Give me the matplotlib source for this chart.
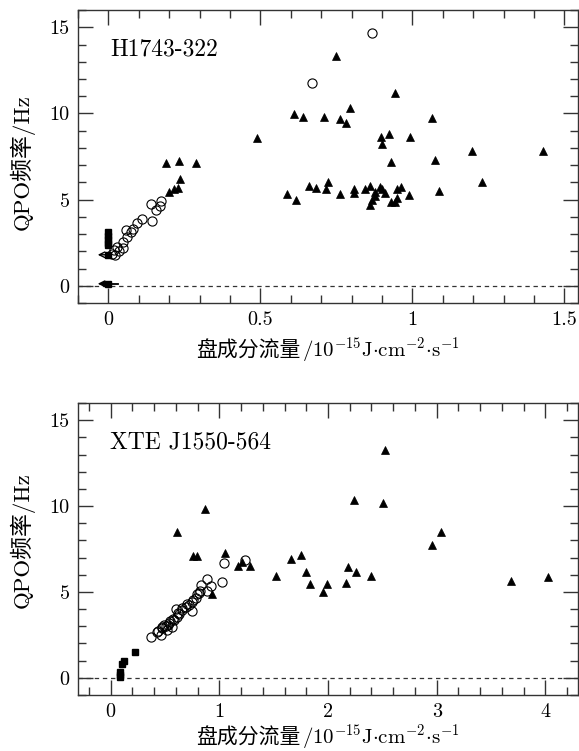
import matplotlib
matplotlib.use("Agg")
import matplotlib.pyplot as plt
from matplotlib.ticker import MultipleLocator
from matplotlib.offsetbox import TextArea, HPacker, AnchoredOffsetbox

plt.rcParams['font.family'] = ['cmr10', 'Noto Sans CJK SC', 'DejaVu Serif']
plt.rcParams['axes.unicode_minus'] = False
plt.rcParams['mathtext.fontset'] = 'cm'

# ---------------- H1743-322 (top) ----------------
h_tri_x = [0.191, 0.232, 0.288, 0.234, 0.200, 0.215, 0.228,
           0.489, 0.612, 0.639, 0.708, 0.749, 0.763, 0.783, 0.796, 0.944, 1.065,
           0.897, 0.922, 0.991, 0.900, 1.196, 1.430, 0.931, 1.076, 1.229,
           0.588, 0.618, 0.659, 0.683, 0.723, 0.716, 0.761, 0.807, 0.809, 0.845,
           0.862, 0.876, 0.878, 0.867, 0.862, 0.895, 0.900, 0.909, 0.931, 0.942,
           0.950, 0.950, 0.964, 0.988, 1.087]
h_tri_y = [7.10, 7.26, 7.14, 6.18, 5.42, 5.60, 5.66,
           8.55, 9.96, 9.80, 9.80, 13.32, 9.65, 9.46, 10.32, 11.19, 9.75,
           8.65, 8.78, 8.65, 8.20, 7.83, 7.82, 7.18, 7.28, 6.00,
           5.31, 4.98, 5.79, 5.66, 6.04, 5.60, 5.33, 5.60, 5.37, 5.60,
           5.79, 5.46, 5.21, 4.98, 4.69, 5.75, 5.60, 5.40, 4.88, 4.88,
           5.08, 5.60, 5.72, 5.27, 5.50]
h_circ_x = [0.012, 0.023, 0.017, 0.029, 0.047, 0.048, 0.061, 0.059, 0.081, 0.094,
            0.109, 0.142, 0.141, 0.155, 0.169, 0.173, 0.035, 0.075, 0.670, 0.867]
h_circ_y = [1.83, 1.80, 2.08, 2.28, 2.18, 2.57, 2.82, 3.24, 3.28, 3.63,
            3.86, 3.76, 4.75, 4.40, 4.63, 4.94, 2.00, 3.15, 11.74, 14.69]
h_sq_x = [0.0, 0.0, 0.0, 0.0, 0.0, 0.0, 0.0]
h_sq_y = [3.10, 2.90, 2.70, 2.50, 2.35, 1.80, 0.12]
# upper limits (arrows pointing to lower flux)
h_lim_x = [0.0, 0.0]
h_lim_y = [1.80, 0.12]
h_lim_style = ['->', '-|>']
h_lim_len = 0.035
h_xerr_hi = 0.03   # horizontal error on the y~0 point

# ---------------- XTE J1550-564 (bottom) ----------------
x_tri_x = [0.607, 0.864, 0.760, 0.797, 1.048, 1.174, 1.211, 1.281, 0.930, 1.517,
           1.664, 1.756, 1.796, 1.830, 1.956, 1.992, 2.170, 2.188, 2.253, 2.391,
           2.237, 2.504, 2.523, 2.961, 3.044, 3.685, 4.025]
x_tri_y = [8.51, 9.83, 7.11, 7.11, 7.25, 6.53, 6.72, 6.53, 4.88, 5.95,
           6.92, 7.15, 6.15, 5.45, 4.98, 5.45, 5.50, 6.43, 6.18, 5.93,
           10.35, 10.16, 13.26, 7.73, 8.51, 5.66, 5.85]
x_circ_x = [0.374, 0.423, 0.460, 0.475, 0.506, 0.536, 0.561, 0.521, 0.582, 0.607,
            0.598, 0.628, 0.653, 0.690, 0.720, 0.745, 0.751, 0.782, 0.797, 0.821,
            0.834, 0.883, 0.920, 0.889, 1.027, 1.042, 1.235,
            0.44, 0.49, 0.55, 0.57, 0.62, 0.66, 0.70, 0.76, 0.81, 0.53, 0.47]
x_circ_y = [2.37, 2.64, 2.50, 2.89, 3.02, 3.18, 2.98, 2.79, 3.37, 3.56,
            3.99, 3.70, 3.95, 4.11, 4.24, 3.91, 4.44, 4.63, 4.88, 5.06,
            5.41, 5.74, 5.37, 5.06, 5.60, 6.70, 6.86,
            2.75, 3.10, 3.30, 3.45, 3.80, 4.05, 4.30, 4.55, 4.95, 3.05, 2.95]
x_sq_x = [0.083, 0.086, 0.090, 0.107, 0.122, 0.224]
x_sq_y = [0.05, 0.17, 0.35, 0.81, 1.00, 1.53]

panels = [
    dict(name='H1743-322', tri=(h_tri_x, h_tri_y), circ=(h_circ_x, h_circ_y),
         sq=(h_sq_x, h_sq_y), xlim=(-0.1, 1.545), xmin=0.1,
         xticks=[0, 0.5, 1, 1.5], xticklabels=['0', '0.5', '1', '1.5'],
         xlab_y=-0.16, ylab_y=0.48),
    dict(name='XTE J1550-564', tri=(x_tri_x, x_tri_y), circ=(x_circ_x, x_circ_y),
         sq=(x_sq_x, x_sq_y), xlim=(-0.3, 4.3), xmin=0.2,
         xticks=[0, 1, 2, 3, 4], xticklabels=['0', '1', '2', '3', '4'],
         xlab_y=-0.145, ylab_y=0.53),
]

fig = plt.figure(figsize=(5.79, 7.51), dpi=100)
ax_rects = [[0.1347, 0.5965, 0.8636, 0.3901],
            [0.1347, 0.0746, 0.8636, 0.3888]]

xlabel_cn = '盘成分流量'
xlabel_unit = r'$\mathrm{/10^{-15}J{\cdot}cm^{-2}{\cdot}s^{-1}}$'
ylabel = 'QPO频率/Hz'
spine_c = '#333333'

for i, (p, rect) in enumerate(zip(panels, ax_rects)):
    ax = fig.add_axes(rect)
    ax.axhline(0, color='#333333', lw=0.9, ls=(0, (3.5, 3.0)), zorder=1)
    ax.plot(p['tri'][0], p['tri'][1], ls='none', marker='^', ms=6.3,
            mfc='black', mec='black', mew=0.5, zorder=3)
    ax.plot(p['circ'][0], p['circ'][1], ls='none', marker='o', ms=6.6,
            mfc='none', mec='black', mew=0.8, zorder=4)
    ax.plot(p['sq'][0], p['sq'][1], ls='none', marker='s', ms=4.5,
            mfc='black', mec='black', zorder=5)
    if i == 0:
        for lx, ly, st in zip(h_lim_x, h_lim_y, h_lim_style):
            ax.annotate('', xy=(lx - h_lim_len, ly), xytext=(lx, ly),
                        arrowprops=dict(arrowstyle=st, color='black', lw=1.0,
                                        mutation_scale=10, shrinkA=0, shrinkB=0),
                        zorder=6)
        ax.plot([h_lim_x[1], h_lim_x[1] + h_xerr_hi], [h_lim_y[1], h_lim_y[1]],
                color='black', lw=1.3, zorder=6)

    ax.set_xlim(*p['xlim'])
    ax.set_ylim(-1, 16)
    ax.set_xticks(p['xticks'])
    ax.set_xticklabels(p['xticklabels'])
    ax.xaxis.set_minor_locator(MultipleLocator(p['xmin']))
    ax.set_yticks([0, 5, 10, 15])
    ax.yaxis.set_minor_locator(MultipleLocator(1))
    ax.tick_params(which='both', direction='in', top=True, right=True,
                   color=spine_c, labelsize=14.5, width=1.0)
    ax.tick_params(which='major', length=11, pad=6)
    ax.tick_params(which='minor', length=6)
    for s in ax.spines.values():
        s.set_color(spine_c)
        s.set_linewidth(1.0)

    # x label: Chinese part + unit (mathtext), aligned on baseline
    ta1 = TextArea(xlabel_cn, textprops=dict(family='Noto Sans CJK SC', size=15))
    ta2 = TextArea(xlabel_unit, textprops=dict(size=15))
    box = HPacker(children=[ta1, ta2], align='baseline', pad=0, sep=1)
    anc = AnchoredOffsetbox(loc='center', child=box, pad=0, borderpad=0,
                            frameon=False, bbox_to_anchor=(0.5, p['xlab_y']),
                            bbox_transform=ax.transAxes)
    ax.add_artist(anc)

    ax.set_ylabel(ylabel, fontsize=16.5)
    ax.yaxis.set_label_coords(-0.086, p['ylab_y'])
    ax.text(0.064, 0.865, p['name'], transform=ax.transAxes, fontsize=17,
            ha='left', va='center')

fig.savefig('out.png', dpi=100)
